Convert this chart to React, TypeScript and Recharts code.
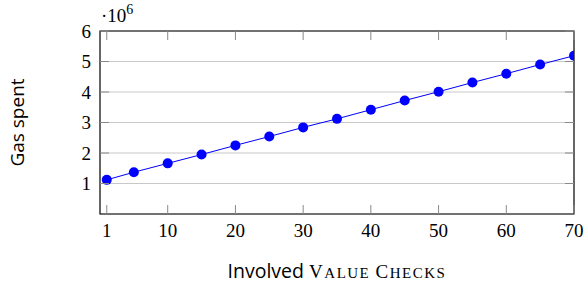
import { LineChart, Line, XAxis, YAxis, CartesianGrid, ReferenceArea } from "recharts";

const checks = [1, 5, 10, 15, 20, 25, 30, 35, 40, 45, 50, 55, 60, 65, 70];
const gasSpent = [
  1120000, 1370000, 1660000, 1950000, 2250000, 2540000, 2840000, 3120000,
  3420000, 3720000, 4010000, 4310000, 4600000, 4900000, 5190000,
];
const xTicks = [1, 10, 20, 30, 40, 50, 60, 70];
const yTicks = [1000000, 2000000, 3000000, 4000000, 5000000, 6000000];

const data = checks.map((c, i) => ({ checks: c, gas: gasSpent[i] }));

// plot box in page pixels
const BOX = { left: 100, right: 574, top: 31, bottom: 214 };
const TICK_LEN = 9;
const SERIF = "'Liberation Serif', 'DejaVu Serif', serif";
const SANS = "'Open Sans', 'DejaVu Sans', sans-serif";
const TICK_COLOR = "#8a8a8a";

function XTick(props: any) {
  const { x, payload } = props;
  return (
    <g>
      <line x1={x} x2={x} y1={BOX.bottom} y2={BOX.bottom - TICK_LEN} stroke={TICK_COLOR} />
      <line x1={x} x2={x} y1={BOX.top} y2={BOX.top + TICK_LEN} stroke={TICK_COLOR} />
      <text x={x} y={BOX.bottom + 23} textAnchor="middle" fontFamily={SERIF} fontSize={19} fill="#000">
        {payload.value}
      </text>
    </g>
  );
}

function YTick(props: any) {
  const { y, payload } = props;
  return (
    <g>
      <line x1={BOX.left} x2={BOX.left + TICK_LEN} y1={y} y2={y} stroke={TICK_COLOR} />
      <line x1={BOX.right} x2={BOX.right - TICK_LEN} y1={y} y2={y} stroke={TICK_COLOR} />
      <text x={BOX.left - 9} y={y + 6.5} textAnchor="end" fontFamily={SERIF} fontSize={19} fill="#000">
        {payload.value / 1000000}
      </text>
    </g>
  );
}

function YLabel() {
  const cy = (BOX.top + BOX.bottom) / 2;
  return (
    <g>
      <text
        x={17}
        y={cy}
        transform={`rotate(-90 17 ${cy})`}
        textAnchor="middle"
        dominantBaseline="central"
        fontFamily={SANS}
        fontSize={19}
        fill="#000"
      >
        Gas spent
      </text>
      <text x={101} y={22} fontFamily={SERIF} fontSize={19} fill="#000">
        ·10<tspan fontSize={14} dy={-8}>6</tspan>
      </text>
    </g>
  );
}

function XLabel() {
  return (
    <text x={337} y={278} textAnchor="middle" fontFamily={SERIF} fontSize={19} fill="#000">
      <tspan fontFamily={SANS} fontSize={19.5}>Involved </tspan>
      <tspan letterSpacing={1.5}>V</tspan>
      <tspan fontSize={15} letterSpacing={1.5}>ALUE </tspan>
      <tspan letterSpacing={1.5}>C</tspan>
      <tspan fontSize={15} letterSpacing={1.5}>HECKS</tspan>
    </text>
  );
}

export default function App() {
  return (
    <div style={{ position: "absolute", left: 0, top: 0, width: 585, height: 287, background: "#fff" }}>
      <LineChart
        width={585}
        height={287}
        data={data}
        margin={{ top: BOX.top, right: 585 - BOX.right, left: 0, bottom: 0 }}
      >
        <CartesianGrid vertical={false} stroke="#c8c8c8" strokeWidth={1} />
        <XAxis
          dataKey="checks"
          type="number"
          domain={[0, 70]}
          ticks={xTicks}
          height={287 - BOX.bottom}
          axisLine={false}
          tickLine={false}
          tick={<XTick />}
          label={<XLabel />}
          allowDataOverflow
        />
        <YAxis
          type="number"
          domain={[0, 6000000]}
          ticks={yTicks}
          width={BOX.left}
          axisLine={false}
          tickLine={false}
          tick={<YTick />}
          label={<YLabel />}
          allowDataOverflow
        />
        <ReferenceArea
          x1={0}
          x2={70}
          y1={0}
          y2={6000000}
          fill="none"
          fillOpacity={0}
          stroke="#000"
          strokeWidth={1.2}
          ifOverflow="visible"
        />
        <Line
          type="linear"
          dataKey="gas"
          stroke="#0000ff"
          strokeWidth={1}
          dot={{ r: 5, fill: "#0000ff", stroke: "#0000ff", strokeWidth: 0 }}
          isAnimationActive={false}
        />
      </LineChart>
    </div>
  );
}
